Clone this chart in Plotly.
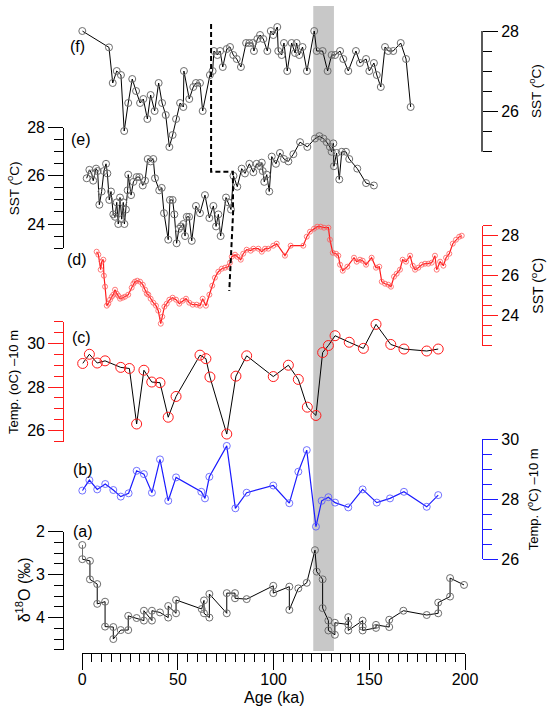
import plotly.graph_objects as go

# (f) SST record, top panel
f_age = [0.0, 13.95, 15.9, 18.0, 20.2, 21.9, 24.0, 26.1, 28.1, 30.2, 31.9, 34.0, 35.7, 37.8,
         39.9, 41.7, 43.6, 45.5, 47.2, 49.0, 51.1, 52.8, 53.1, 55.9, 58.0, 59.4, 61.5, 62.9,
         66.7, 68.1, 68.8, 70.6, 72.0, 73.4, 75.5, 77.2, 78.9, 80.7, 82.9, 85.6, 87.3, 89.1,
         89.7, 91.5, 92.9, 94.6, 96.7, 98.5, 99.8, 101.9, 102.4, 104.2, 105.4, 107.1, 109.4,
         111.2, 112.0, 113.4, 115.1, 117.4, 121.2, 122.5, 125.6, 128.2, 130.3, 132.1, 134.7,
         136.4, 139.0, 143.0, 145.1, 148.3, 150.0, 152.4, 153.9, 156.0, 158.2, 159.9, 162.5,
         166.4, 169.2, 171.6]
f_sst = [28.0, 27.59, 26.7, 27.0, 26.9, 25.5, 26.2, 26.8, 26.5, 26.2, 26.3, 25.8, 26.4, 26.0,
         26.7, 26.2, 25.9, 25.1, 25.4, 25.8, 26.2, 26.1, 27.0, 26.3, 26.6, 26.7, 26.7, 26.0,
         26.9, 27.0, 27.5, 27.4, 27.5, 27.1, 27.55, 27.6, 27.4, 27.3, 27.1, 27.7, 27.7, 27.7,
         27.5, 27.8, 27.9, 27.8, 27.5, 28.0, 27.9, 28.1, 27.5, 27.4, 27.7, 27.0, 27.7,
         27.45, 27.7, 27.4, 27.6, 27.0, 28.0, 27.5, 27.5, 27.0, 27.4, 27.4, 27.5,
         27.3, 27.0, 27.5, 27.2, 27.3, 27.0, 27.2, 26.9, 26.6, 27.6, 27.5, 27.5,
         27.7, 27.3, 26.1]

# (e) SST record
e_age = [2.3, 3.7, 4.9, 5.7, 7.2, 8.0, 8.9, 10.1, 11.3, 12.4, 13.1, 14.1, 15.0, 16.2, 17.1,
         18.0, 18.8, 19.7, 20.6, 21.4, 22.0, 22.8, 23.7, 24.0, 25.5, 26.7, 28.4, 29.8, 31.6,
         32.8, 34.2, 35.7, 37.1, 38.0, 40.2, 41.5, 42.7, 44.9, 45.8, 47.2, 48.1, 49.3, 50.5,
         51.6, 52.8, 53.7, 54.6, 55.8, 57.2, 59.4, 61.5, 64.1, 66.4, 68.5, 69.9, 71.1, 72.3,
         75.1, 76.3, 77.7, 79.0, 81.0, 83.3, 85.0, 87.3, 89.4, 91.1, 92.9, 93.8, 94.3, 95.1,
         96.4, 97.7, 99.0, 101.2, 103.3, 105.4, 107.7, 110.3, 113.8, 117.6, 121.6, 123.9,
         126.0, 127.7, 129.4, 130.3, 131.2, 131.5, 132.9, 134.3, 135.6, 137.8, 139.5, 143.7,
         148.3, 152.4]
e_sst = [25.9, 26.25, 26.1, 25.8, 26.3, 26.2, 24.8, 25.35, 26.2, 26.5, 26.1, 25.0, 25.35, 24.4, 24.3,
         24.9, 24.0, 25.1, 24.2, 24.9, 24.0, 24.6, 25.4, 26.05, 25.2, 25.75, 25.95, 25.95, 25.6,
         25.8, 26.7, 26.6, 26.7, 25.9, 25.4, 25.5, 24.45, 23.35, 25.0, 25.0, 24.4, 23.2, 23.8,
         23.9, 24.0, 23.5, 24.3, 24.3, 23.3, 24.75, 24.45, 25.2, 24.25, 24.75, 23.9, 24.4, 23.5,
         25.1, 24.9, 24.6, 26.0, 25.55, 26.3, 26.1, 26.5, 26.15, 26.5, 26.4, 26.55, 26.2, 25.75,
         26.05, 25.35, 26.8, 26.5, 26.95, 26.7, 26.6, 26.9, 27.4, 27.2, 27.55, 27.65,
         27.55, 27.4, 27.2, 27.0, 27.35, 26.4, 26.95, 25.85, 27.0, 27.0, 26.7, 26.3,
         25.7, 25.6]

# (d) SST record (red)
d_age = [7.5, 8.4, 9.6, 10.1, 11.0, 11.3, 11.9, 12.8, 13.6, 14.5, 15.4, 16.2, 17.1, 18.0, 18.8,
         19.7, 21.1, 22.3, 24.0, 25.8, 26.7, 27.5, 28.7, 30.2, 31.6, 32.8, 33.7, 34.5, 35.7,
         37.1, 38.5, 39.7, 41.0, 41.8, 42.9, 44.1, 45.5, 47.2, 49.0, 50.7, 52.5, 54.2, 55.9,
         57.7, 59.8, 61.5, 62.9, 64.6, 66.4, 67.9, 69.3, 71.1, 72.9, 74.6, 76.3, 77.2, 78.1,
         79.8, 81.0, 82.8, 84.1, 85.9, 88.0, 89.4, 92.0, 93.8, 95.5, 97.2, 99.8, 101.6, 105.9,
         108.9, 115.5, 117.3, 119.0, 121.1, 122.8, 124.6, 126.3, 128.6, 129.4, 130.9, 132.6,
         133.8, 134.7, 136.1, 138.5, 142.0, 143.4, 145.1, 146.5, 148.3, 151.2, 153.5, 155.2,
         156.5, 158.2, 159.9, 161.3, 162.9, 164.3, 166.0, 167.4, 169.2, 171.3, 172.7, 173.9,
         175.6, 177.4, 179.1, 180.8, 182.6, 184.3, 185.2, 187.0, 188.7, 190.1, 191.8, 193.6,
         195.3, 197.0, 198.3]
d_sst = [27.2, 27.05, 26.3, 26.7, 26.8, 26.0, 25.45, 24.5, 24.6, 24.8, 24.95, 25.05, 25.3, 25.1, 25.0,
         24.85, 24.9, 24.95, 25.05, 25.4, 25.6, 25.7, 25.75, 25.7, 25.55, 25.3, 25.1, 25.05, 24.85,
         24.65, 24.5, 24.25, 23.6, 23.95, 24.45, 24.6, 24.8, 24.9, 24.8, 24.6, 24.75, 24.85, 24.65,
         24.55, 24.55, 24.5, 24.85, 24.5, 25.05, 25.5, 25.9, 26.2, 26.35, 26.4, 26.45, 26.65, 26.95,
         27.05, 26.95, 26.8, 27.1, 27.3, 27.25, 27.35, 27.35, 27.2, 27.35, 27.35, 27.5, 27.6, 27.0,
         27.5, 27.5, 27.95, 28.2, 28.35, 28.45, 28.45, 28.4, 28.4, 27.8, 27.15, 27.1,
         27.0, 26.55, 26.25, 26.45, 26.9, 26.7, 26.8, 26.75, 26.55, 26.9, 26.4, 26.45,
         25.7, 25.6, 25.55, 25.45, 25.95, 26.1, 26.3, 26.8, 26.7, 27.0, 26.5, 26.3,
         26.4, 26.55, 26.6, 26.6, 26.65, 27.0, 26.3, 26.7, 26.5, 26.9, 27.1, 27.6,
         27.8, 27.95, 28.0]

# (c) temperature at -10 m
c_age = [0.2, 3.7, 7.8, 11.9, 20.1, 24.6, 28.4, 32.2, 36.3, 40.6, 44.9, 49.0, 61.5, 64.6, 66.7,
         75.5, 80.3, 85.9, 99.8, 107.7, 112.9, 117.6, 122.1, 125.6, 128.6, 132.1, 139.5, 146.9,
         153.5, 161.2, 168.1, 180.0, 186.0]
c_temp = [29.08, 29.5, 29.1, 29.2, 28.9, 28.85, 26.31, 28.77, 28.23, 28.2, 26.62, 27.57, 29.46, 29.3, 28.46,
          25.85, 28.5, 29.43, 28.48, 29.0, 28.35, 27.08, 26.7, 29.58, 29.9, 30.35, 30.05, 29.77,
          30.87, 29.95, 29.74, 29.65, 29.74]

# (b) temperature at -10 m (blue)
b_age = [0.0, 3.7, 7.8, 12.0, 16.2, 20.1, 24.2, 28.4, 32.2, 36.4, 40.6, 44.9, 49.0, 62.2, 64.1,
         66.4, 75.5, 80.0, 85.9, 99.8, 108.2, 112.9, 117.3, 122.1, 125.1, 128.6, 132.1, 139.0,
         146.5, 153.9, 160.8, 168.1, 180.0, 186.0]
b_temp = [28.29, 28.64, 28.33, 28.51, 28.31, 28.09, 28.2, 28.95, 28.84, 28.22, 29.33, 27.95, 28.73, 28.25, 28.03,
          28.75, 29.78, 27.7, 28.22, 28.46, 27.87, 28.92, 29.64, 27.09, 27.95, 28.07, 27.89, 27.73,
          28.33, 27.89, 28.03, 28.25, 27.75, 28.14]

# (a) d18O record
a_age = [0.0, 0.0, 4.0, 4.0, 7.8, 7.8, 11.9, 11.9, 16.2, 16.2, 20.1, 24.0, 24.0, 28.4, 32.2, 32.2,
         36.4, 36.4, 40.6, 44.9, 44.9, 49.0, 49.0, 62.4, 63.6, 63.6, 66.4, 66.4, 75.5, 75.5,
         79.8, 79.8, 85.9, 99.8, 99.8, 108.2, 108.2, 112.9, 117.3, 121.6, 122.5, 125.6, 125.6,
         128.6, 128.6, 132.0, 132.0, 139.0, 139.0, 139.0, 146.5, 146.5, 146.5, 153.5, 153.5,
         160.4, 160.4, 167.8, 180.0, 186.0, 186.0, 192.2, 192.2, 199.5]
a_d18o = [2.31, 2.64, 2.68, 3.11, 3.22, 3.68, 3.63, 4.21, 4.22, 4.50, 4.29, 4.29, 3.96, 4.01, 4.07, 3.84,
          4.07, 3.84, 3.88, 4.0, 3.73, 3.9, 3.59, 3.8, 3.6, 3.9, 4.0, 3.45, 3.9, 3.43,
          3.43, 3.55, 3.57, 3.26, 3.43, 3.28, 3.82, 3.32, 3.19, 2.43, 2.93, 3.11, 3.78,
          4.07, 4.30, 4.40, 4.12, 4.16, 3.99, 4.30, 4.07, 4.21, 4.30, 4.24, 4.17,
          4.22, 4.05, 3.84, 3.94, 3.90, 3.65, 3.51, 3.08, 3.24]

# grey band (MIS 5e) and the dashed boundary line
band_age = [120.7, 131.5]
dash_age = [67.3, 67.3, 78.7, 78.8, 76.8]
dash_px = [24, 171.7, 171.7, 213, 291]

W, H = 550, 709
FONT = "Arial, Liberation Sans, sans-serif"
RED = "#ff1a1a"
BLUE = "#1a1aff"


def px(p):
    return p / W


def py(p):
    return 1 - p / H


fig = go.Figure()

grey_mk = dict(symbol="circle-open", size=7, color="#6e6e6e", line=dict(width=1))
fig.add_trace(go.Scatter(x=a_age, y=a_d18o, yaxis="y", mode="lines+markers",
                         line=dict(color="black", width=1), marker=grey_mk, cliponaxis=False))
fig.add_trace(go.Scatter(x=b_age, y=b_temp, yaxis="y2", mode="lines+markers",
                         line=dict(color=BLUE, width=1.2),
                         marker=dict(symbol="circle-open", size=7, color="rgba(90,90,255,0.85)",
                                     line=dict(width=1)), cliponaxis=False))
fig.add_trace(go.Scatter(x=c_age, y=c_temp, yaxis="y3", mode="lines+markers",
                         line=dict(color="black", width=1),
                         marker=dict(symbol="circle-open", size=10, color=RED, line=dict(width=1)),
                         cliponaxis=False))
fig.add_trace(go.Scatter(x=d_age, y=d_sst, yaxis="y4", mode="lines+markers",
                         line=dict(color=RED, width=1.2),
                         marker=dict(symbol="circle-open", size=5, color="rgba(255,90,90,0.8)",
                                     line=dict(width=1)), cliponaxis=False))
fig.add_trace(go.Scatter(x=e_age, y=e_sst, yaxis="y5", mode="lines+markers",
                         line=dict(color="black", width=1), marker=grey_mk, cliponaxis=False))
fig.add_trace(go.Scatter(x=f_age, y=f_sst, yaxis="y6", mode="lines+markers",
                         line=dict(color="black", width=1), marker=grey_mk, cliponaxis=False))


def yaxis(rng, dom_px, ticks, minor, side, xpos, color, showline=True):
    return dict(
        range=rng, domain=[py(dom_px[0]), py(dom_px[1])], anchor="free", position=px(xpos),
        side=side, showline=showline, linecolor=color, linewidth=1.3, showgrid=False,
        zeroline=False, tickmode="array", tickvals=ticks, ticks="outside", ticklen=15,
        tickwidth=1.3, tickcolor=color, tickfont=dict(size=16, color="black"),
        minor=dict(dtick=minor, ticks="outside", ticklen=9, tickwidth=1.3, tickcolor=color),
        automargin=False, fixedrange=True,
    )


fig.update_layout(
    width=W, height=H, margin=dict(l=0, r=0, t=0, b=0),
    paper_bgcolor="white", plot_bgcolor="rgba(0,0,0,0)", showlegend=False,
    font=dict(family=FONT, size=14, color="black"),
    xaxis=dict(range=[0, 200], domain=[px(82.3), px(465)], anchor="free", position=py(653.3),
               showline=True, linecolor="black", linewidth=1.3, showgrid=False, zeroline=False,
               tickmode="array", tickvals=[0, 50, 100, 150, 200], ticks="outside", ticklen=16,
               tickwidth=1.3, tickcolor="black", tickfont=dict(size=16), ticklabelstandoff=-5,
               minor=dict(dtick=5, ticks="outside", ticklen=8, tickwidth=1.3, tickcolor="black"),
               automargin=False, fixedrange=True),
    yaxis=yaxis([4.75, 2], [649.8, 531.7], [2, 3, 4], 0.25, "left", 63.3, "black"),
    yaxis2=yaxis([26, 30], [559.3, 439.3], [26, 28, 30], 0.5, "right", 482, BLUE),
    yaxis3=yaxis([25.5, 31], [441.7, 321.5], [26, 28, 30], 0.5, "left", 63.3, RED),
    yaxis4=yaxis([22.5, 28.5], [345.7, 225.7], [24, 26, 28], 0.5, "right", 482, RED),
    yaxis5=yaxis([23, 28], [248.1, 127.7], [24, 26, 28], 0.5, "left", 63.3, "black"),
    yaxis6=yaxis([24.75, 28.25], [161, 21], [26, 28], 0.5, "right", 482, "black", showline=False),
)

# grey band behind everything
fig.add_shape(type="rect", xref="x", yref="paper", x0=band_age[0], x1=band_age[1],
              y0=py(651), y1=py(6), fillcolor="#c8c8c8", line=dict(width=0), layer="below")
# axis line of panel (f), limited to 25-28
fig.add_shape(type="line", xref="paper", yref="paper", x0=px(482), x1=px(482),
              y0=py(151.7), y1=py(31), line=dict(color="black", width=1.3))
# dashed boundary
path = "M " + " L ".join(f"{a},{py(p)}" for a, p in zip(dash_age, dash_px))
fig.add_shape(type="path", xref="x", yref="paper", path=path,
              line=dict(color="black", width=2, dash="5px,3px"))

# panel labels
for txt, x, y in [("(f)", 77.5, 46), ("(e)", 80.8, 139.3), ("(d)", 77, 259),
                  ("(c)", 81.7, 337.7), ("(b)", 83, 469.3), ("(a)", 83, 531.5)]:
    fig.add_annotation(text=txt, x=px(x), y=py(y), xref="paper", yref="paper",
                       showarrow=False, font=dict(size=16), xanchor="center", yanchor="middle")

# axis titles
for txt, x, y, size in [("SST (<sup>o</sup>C)", 535, 91, 13.5),
                        ("SST (<sup>o</sup>C)", 13.3, 188, 13.5),
                        ("SST (<sup>o</sup>C)", 536.7, 286, 14),
                        ("Temp. (oC) –10 m", 13.3, 381.7, 13),
                        ("Temp. (<sup>o</sup>C) –10 m", 533, 499.3, 13),
                        ("δ<sup>18</sup>O (‰)", 23.3, 590, 16)]:
    fig.add_annotation(text=txt, x=px(x), y=py(y), xref="paper", yref="paper", textangle=-90,
                       showarrow=False, font=dict(size=size), xanchor="center", yanchor="middle")

fig.add_annotation(text="Age (ka)", x=px(273.7), y=py(697), xref="paper", yref="paper",
                   showarrow=False, font=dict(size=16), xanchor="center", yanchor="middle")

fig.write_html("out.html", config={"displayModeBar": False},
               post_script="document.body.style.margin='0px';")
